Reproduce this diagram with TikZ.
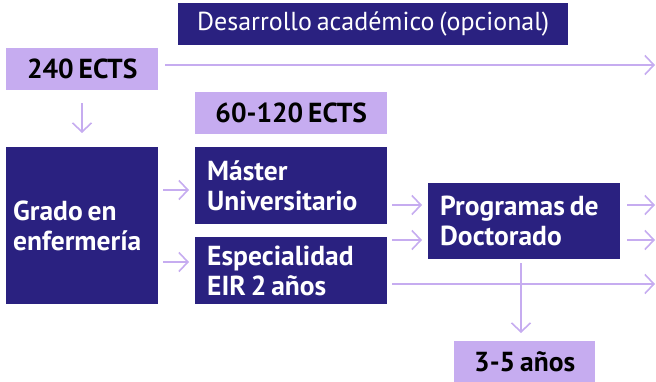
\documentclass[tikz,border=0pt]{standalone}
\usepackage{fontspec}
\setmainfont[WordSpace=0.7]{PT Sans}
\usetikzlibrary{arrows.meta}

\definecolor{navy}{RGB}{42,33,128}
\definecolor{lila}{RGB}{198,172,240}

\tikzset{
    navybox/.style={anchor=north west, fill=navy, text=white, align=flush left,
        font=\bfseries\fontsize{27.5}{30}\selectfont, inner ysep=0pt},
    lilabox/.style={anchor=north west, fill=lila, text=black, inner sep=0pt,
        font=\bfseries\fontsize{27.5}{30}\selectfont, minimum height=42pt},
    flow/.style={draw=lila, line width=1.6pt,
        -{Straight Barb[length=9pt,width=19pt]}}
}

\begin{document}
\begin{tikzpicture}[x=1pt, y=-1pt]

        \useasboundingbox (0,0) rectangle (656,382);

        \node[anchor=north west, fill=navy, text=white, inner sep=0pt,
              minimum width=390pt, minimum height=42pt,
              font=\fontsize{26}{28}\selectfont]
            (desarrollo) at (178,3) {Desarrollo académico (opcional)};

        \node[lilabox, minimum width=152pt] (ects240) at (6,48) {240 ECTS};
        \node[lilabox, minimum width=192pt] (ects60) at (195,92) {60-120 ECTS};
        \node[lilabox, minimum width=141pt] (anios) at (454,341) {3-5 años};

        \node[navybox, inner xsep=7pt, text width=138pt, minimum height=157pt]
            (grado) at (6,147) {Grado en\\enfermería};
        \node[navybox, inner xsep=12pt, text width=168pt, minimum height=77pt]
            (master) at (195,147) {Máster\\Universitario};
        \node[navybox, inner xsep=12pt, text width=168pt, minimum height=67pt]
            (eir) at (195,237) {Especialidad\\EIR 2 años};
        \node[navybox, inner xsep=12pt, text width=168pt, minimum height=76pt]
            (doctorado) at (428,183) {Programas de\\Doctorado};

        \coordinate (fin1) at (655,65);
        \coordinate (fin2) at (655,205);
        \coordinate (fin3) at (655,240);
        \coordinate (fin4) at (655,284);

        \draw[flow, shorten <=7pt]
            (ects240.east |- fin1) -- (fin1);

        \draw[flow, shorten <=13pt, shorten >=14pt]
            (ects240.south -| 82,0) -- (grado.north -| 82,0);

        \draw[flow, shorten <=5pt, shorten >=6pt]
            (grado.east |- 0,190) -- (master.west |- 0,190);
        \draw[flow, shorten <=5pt, shorten >=6pt]
            (grado.east |- 0,262) -- (eir.west |- 0,262);

        \draw[flow, shorten <=5pt, shorten >=6pt]
            (master.east |- 0,205) -- (doctorado.west |- 0,205);
        \draw[flow, shorten <=5pt, shorten >=6pt]
            (eir.east |- 0,240) -- (doctorado.west |- 0,240);

        \draw[flow, shorten <=5pt]
            (eir.east |- fin4) -- (fin4);

        \draw[flow, shorten <=7pt]
            (doctorado.east |- fin2) -- (fin2);
        \draw[flow, shorten <=7pt]
            (doctorado.east |- fin3) -- (fin3);

        \draw[flow, shorten <=4pt, shorten >=8pt]
            (doctorado.south -| 521,0) -- (anios.north -| 521,0);

\end{tikzpicture}
\end{document}
